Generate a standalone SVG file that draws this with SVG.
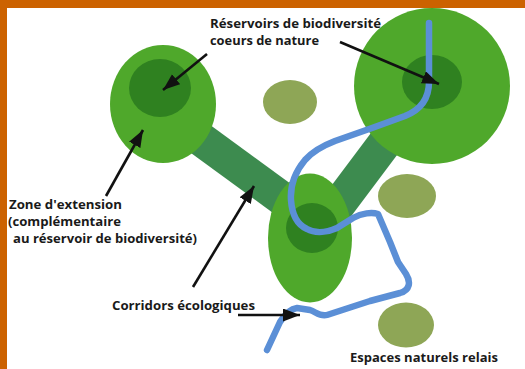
<svg xmlns="http://www.w3.org/2000/svg" width="525" height="369" viewBox="0 0 525 369">
<style>
.zone{fill:#4fa82b}
.core{fill:#2f8120}
.corr{stroke:#3d8b4f;stroke-width:34;fill:none}
.relais{fill:#8ea656}
.river{stroke:#5b8fd6;stroke-width:6.5;fill:none;stroke-linecap:round;stroke-linejoin:round}
.arrow{stroke:#111;stroke-width:2.6;fill:none;marker-end:url(#head)}
.lbl{font-family:"Open Sans","Liberation Sans",sans-serif;font-weight:700;font-size:12.8px;fill:#1a1a1a}
.sm{font-size:12.3px}
</style>
<defs>
<marker id="head" markerUnits="userSpaceOnUse" markerWidth="18" markerHeight="14" refX="17" refY="6.5" orient="auto">
<path d="M0,0 L17,6.5 L0,13 z" fill="#111"/>
</marker>
</defs>
<rect x="0" y="0" width="525" height="369" fill="#ffffff"/>
<rect x="0" y="0" width="525" height="8" fill="#cc6200"/>
<rect x="0" y="0" width="7" height="369" fill="#cc6200"/>

<g id="connectors">
<line class="corr" x1="165" y1="113" x2="310" y2="219"/>
<line class="corr" x1="432" y1="80" x2="312" y2="240"/>
</g>

<g id="reservoir-left">
<ellipse class="zone" cx="163" cy="104" rx="53" ry="59"/>
<ellipse class="core" cx="160" cy="88" rx="31" ry="29"/>
</g>
<g id="reservoir-right">
<circle class="zone" cx="432" cy="86" r="78"/>
<ellipse class="core" cx="432" cy="82" rx="30" ry="27"/>
</g>
<g id="reservoir-middle">
<ellipse class="zone" cx="310" cy="238" rx="42" ry="64.5"/>
<ellipse class="core" cx="312" cy="228" rx="26" ry="25"/>
</g>
<g id="relais-1"><ellipse class="relais" cx="290" cy="102" rx="27" ry="22"/></g>
<g id="relais-2"><ellipse class="relais" cx="407" cy="196" rx="29" ry="22"/></g>
<g id="relais-3"><ellipse class="relais" cx="406" cy="325" rx="28" ry="22.5"/></g>

<g id="river">
<path class="river" d="M429,23 L429,82 C429,100 420,110 405,116 L372,128 L335,141 C322,146 312,152 305,160 C295,172 290,185 291,200 C292,215 298,225 307,229 C316,234 328,232 337,228 L353,218 C362,213 372,212 378,214 L390,242 L398,262 L406,274 C411,282 410,290 400,293 L370,301 L327,315 C320,317 316,312 310,310 L297,308 C290,309 285,314 280,322 L267,350"/>
</g>

<g id="arrows">
<line class="arrow" x1="207" y1="54" x2="163" y2="90"/>
<line class="arrow" x1="340" y1="42" x2="439" y2="84"/>
<line class="arrow" x1="106" y1="196" x2="143" y2="130"/>
<line class="arrow" x1="193" y1="287" x2="254" y2="186"/>
<line class="arrow" x1="238" y1="315" x2="300" y2="315"/>
</g>

<g id="labels">
<text class="lbl" x="210" y="28" textLength="171" lengthAdjust="spacingAndGlyphs">Réservoirs de biodiversité</text>
<text class="lbl" x="210" y="45" textLength="109" lengthAdjust="spacingAndGlyphs">coeurs de nature</text>
<text class="lbl sm" x="9" y="209" textLength="113" lengthAdjust="spacingAndGlyphs">Zone d'extension</text>
<text class="lbl sm" x="8" y="226" textLength="113" lengthAdjust="spacingAndGlyphs">(complémentaire</text>
<text class="lbl sm" x="13" y="243" textLength="184" lengthAdjust="spacingAndGlyphs">au réservoir de biodiversité)</text>
<text class="lbl" x="112" y="310" textLength="143" lengthAdjust="spacingAndGlyphs">Corridors écologiques</text>
<text class="lbl" x="350" y="362" textLength="148" lengthAdjust="spacingAndGlyphs">Espaces naturels relais</text>
</g>
</svg>
